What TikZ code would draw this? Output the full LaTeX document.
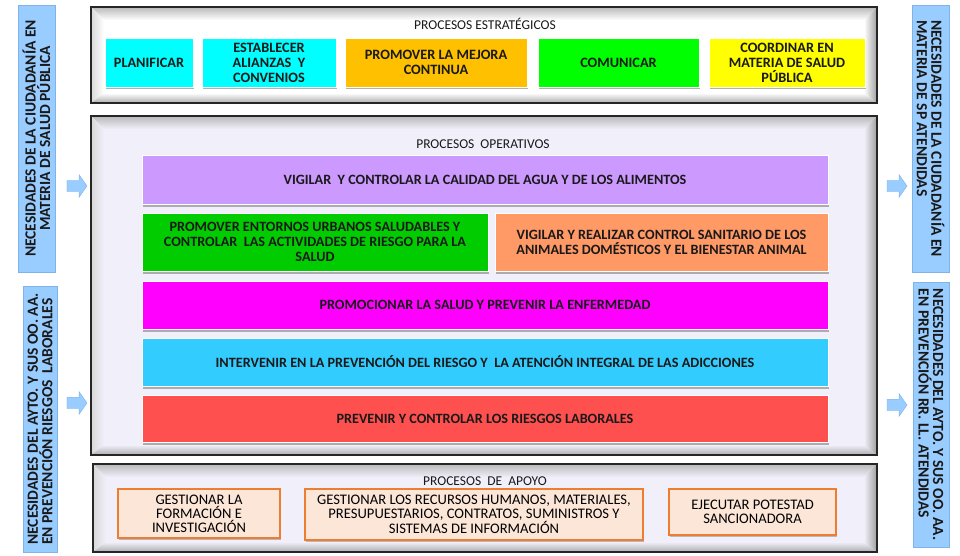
\documentclass[tikz,border=0pt]{standalone}
\usepackage{fontspec}
\setmainfont{Carlito}
\usepackage{tikz}
\usetikzlibrary{shapes.arrows,shadows}

\definecolor{necfondo}{HTML}{99CCFF}
\definecolor{necborde}{HTML}{7EB3EC}
\definecolor{lavanda}{HTML}{F0EFFA}
\definecolor{apoyofondo}{HTML}{FCE6D8}
\definecolor{apoyoborde}{HTML}{ED7D31}
\definecolor{cian}{HTML}{00FFFF}
\definecolor{oro}{HTML}{FFC000}
\definecolor{verde}{HTML}{00FF00}
\definecolor{amarillo}{HTML}{FFFF00}
\definecolor{lila}{HTML}{CC99FF}
\definecolor{verdeosc}{HTML}{00CC00}
\definecolor{salmon}{HTML}{FF9966}
\definecolor{magenta}{HTML}{FF00FF}
\definecolor{celeste}{HTML}{33CCFF}
\definecolor{rojo}{HTML}{FF5050}

\begin{document}
\begin{tikzpicture}[x=1pt, y=-1pt,
	proc/.style={draw=white, line width=0.6pt, align=center, inner sep=1pt, text=black!90,
		drop shadow={shadow xshift=0.6pt, shadow yshift=-2.5pt, fill=black!50, opacity=0.6}},
	strat/.style={proc, font=\bfseries\fontsize{14.3}{15}\selectfont},
	oper/.style={proc, font=\bfseries\fontsize{14.2}{15}\selectfont},
	apoyo/.style={draw=apoyoborde, line width=1.2pt, fill=apoyofondo, align=center, inner sep=1pt,
		font=\fontsize{14.6}{14}\selectfont,
		drop shadow={shadow xshift=0.6pt, shadow yshift=-2pt, fill=black!50, opacity=0.5}},
	titulo/.style={font=\fontsize{13.5}{14}\selectfont, text=black!90},
	necesidad/.style={draw=necborde, fill=necfondo, line width=0.8pt, inner sep=2pt, text=black!90,
		font=\bfseries\fontsize{15.5}{14.5}\selectfont},
	flecha/.style={single arrow, draw=necborde, fill=necfondo, minimum height=20pt,
		inner xsep=0pt, inner ysep=5.5pt, single arrow head extend=5.5pt, single arrow tip angle=110}]
	\useasboundingbox (0,0) rectangle (960,556);
	%marcos
	\foreach \xa/\ya/\xb/\yb/\fondo in {91/7/877/103/white, 91/116/877/455/lavanda, 93/464/877/552/lavanda}{
		\fill[\fondo] (\xa,\ya) rectangle (\xb,\yb);
		\shade[top color=gray!55, bottom color=\fondo] (\xa,\ya) -- (\xb,\ya) -- (\xb-13,\ya+13) -- (\xa+13,\ya+13) -- cycle;
		\shade[left color=gray!30, right color=\fondo] (\xa,\ya) -- (\xa+13,\ya+13) -- (\xa+13,\yb-10) -- (\xa,\yb) -- cycle;
		\shade[left color=\fondo, right color=gray!75] (\xb,\ya) -- (\xb,\yb) -- (\xb-13,\yb-10) -- (\xb-13,\ya+13) -- cycle;
		\shade[top color=\fondo, bottom color=gray!65] (\xa,\yb) -- (\xa+13,\yb-10) -- (\xb-13,\yb-10) -- (\xb,\yb) -- cycle;
		\draw[line width=2pt, black!85] (\xa,\ya) rectangle (\xb,\yb);
	}
	%estrategicos
	\node[titulo] (tEstrategicos) at (485,24) {PROCESOS ESTRATÉGICOS};
	\node[strat, fill=cian, minimum width=88pt, minimum height=49pt] (planificar) at (149,62.5) {PLANIFICAR};
	\node[strat, fill=cian, minimum width=134pt, minimum height=49pt] (alianzas) at (269,62.5) {ESTABLECER\\ALIANZAS~ Y\\CONVENIOS};
	\node[strat, fill=oro, minimum width=182pt, minimum height=49pt] (mejora) at (436,62.5) {PROMOVER LA MEJORA\\CONTINUA};
	\node[strat, fill=verde, minimum width=161pt, minimum height=49pt] (comunicar) at (618.5,62.5) {COMUNICAR};
	\node[strat, fill=amarillo, minimum width=156pt, minimum height=49pt] (coordinar) at (787,62.5) {COORDINAR EN\\MATERIA DE SALUD\\PÚBLICA};
	%operativos
	\node[titulo] (tOperativos) at (483,144) {PROCESOS~ OPERATIVOS};
	\node[oper, fill=lila, minimum width=686pt, minimum height=49pt] (agua) at (485,179.5) {VIGILAR~ Y CONTROLAR LA CALIDAD DEL AGUA Y DE LOS ALIMENTOS};
	\node[oper, fill=verdeosc, minimum width=346pt, minimum height=58pt] (entornos) at (315,242) {PROMOVER ENTORNOS URBANOS SALUDABLES Y\\CONTROLAR~ LAS ACTIVIDADES DE RIESGO PARA LA\\SALUD};
	\node[oper, fill=salmon, minimum width=333pt, minimum height=58pt] (animales) at (661.5,242) {VIGILAR Y REALIZAR CONTROL SANITARIO DE LOS\\ANIMALES DOMÉSTICOS Y EL BIENESTAR ANIMAL};
	\node[oper, fill=magenta, minimum width=686pt, minimum height=48pt] (promocion) at (485,305) {PROMOCIONAR LA SALUD Y PREVENIR LA ENFERMEDAD};
	\node[oper, fill=celeste, minimum width=686pt, minimum height=48pt] (adicciones) at (485,362) {INTERVENIR EN LA PREVENCIÓN DEL RIESGO Y~ LA ATENCIÓN INTEGRAL DE LAS ADICCIONES};
	\node[oper, fill=rojo, minimum width=686pt, minimum height=47pt] (laborales) at (485,418.5) {PREVENIR Y CONTROLAR LOS RIESGOS LABORALES};
	%apoyo
	\node[titulo] (tApoyo) at (485,481) {PROCESOS~ DE~ APOYO};
	\node[apoyo, minimum width=162pt, minimum height=49pt] (formacion) at (199,513.5) {GESTIONAR LA\\FORMACIÓN E\\INVESTIGACIÓN};
	\node[apoyo, minimum width=338pt, minimum height=51pt] (recursos) at (474,514.5) {GESTIONAR LOS RECURSOS HUMANOS, MATERIALES,\\PRESUPUESTARIOS, CONTRATOS, SUMINISTROS Y\\SISTEMAS DE INFORMACIÓN};
	\node[apoyo, minimum width=167pt, minimum height=46pt] (sancion) at (752.5,512) {EJECUTAR POTESTAD\\SANCIONADORA};
	%necesidades
	\node[necesidad, rotate=90, align=center, minimum width=267pt, minimum height=37pt] (necCiudadania) at (36.5,138.5) {NECESIDADES DE LA CIUDADANÍA EN\\MATERIA DE SALUD PÚBLICA};
	\node[necesidad, rotate=90, align=left, minimum width=266pt, minimum height=34pt] (necAyto) at (40,419) {NECESIDADES DEL AYTO. Y SUS OO. AA.\\EN PREVENCIÓN RIESGOS~ LABORALES};
	\node[necesidad, rotate=-90, align=left, minimum width=267pt, minimum height=37pt] (atCiudadania) at (930.5,138.5) {NECESIDADES DE LA CIUDADANÍA EN\\MATERIA DE SP ATENDIDAS};
	\node[necesidad, rotate=-90, align=left, minimum width=265pt, minimum height=36pt] (atAyto) at (931,414.5) {NECESIDADES DEL AYTO. Y SUS OO. AA.\\EN PREVENCIÓN RR. LL. ATENDIDAS};
	%flechas
	\node[flecha] (fCiudadania) at (75,186) {};
	\node[flecha] (fAyto) at (75,403) {};
	\node[flecha] (fAtCiudadania) at (895,186) {};
	\node[flecha] (fAtAyto) at (895,405) {};
\end{tikzpicture}
\end{document}
